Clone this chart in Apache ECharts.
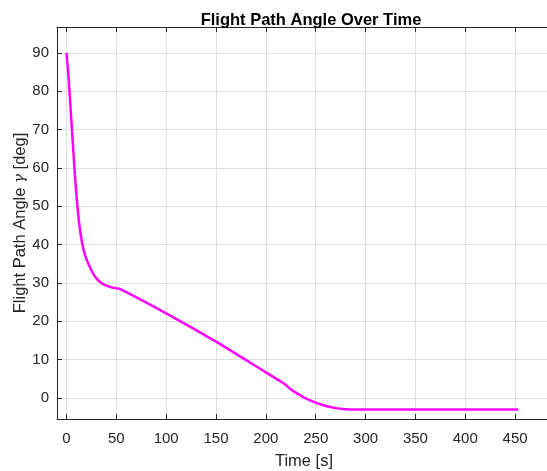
<!DOCTYPE html>
<html>
<head>
<meta charset="utf-8">
<script src="https://cdn.jsdelivr.net/npm/echarts@6/dist/echarts.min.js"></script>
<style>
html,body{margin:0;padding:0;background:#fff;overflow:hidden;}
#chart{width:547px;height:471px;}
</style>
</head>
<body>
<div id="chart"></div>
<script>
// Time [s]
var timeS = [0, 2, 3, 4, 5.5, 7, 8, 9.5, 11, 13, 16, 19, 22, 26, 30, 35, 40, 45, 50, 54, 100, 150, 200, 215, 220, 225, 230, 234, 240, 245, 250, 257, 264, 272, 281, 290, 350, 400, 453];
// Flight path angle gamma [deg]
var gammaDeg = [90, 84, 80, 76, 70, 64, 60, 54.5, 50, 45, 40, 37, 35, 32.8, 31.2, 30.0, 29.3, 28.9, 28.6, 28.4, 22.1, 14.7, 6.7, 4.3, 3.4, 2.3, 1.4, 0.8, -0.1, -0.7, -1.2, -1.8, -2.3, -2.7, -2.95, -3.0, -3.0, -3.0, -3.0];
var xTicks = [0, 50, 100, 150, 200, 250, 300, 350, 400, 450];
var yTicks = [0, 10, 20, 30, 40, 50, 60, 70, 80, 90];

var pts = timeS.map(function (t, i) { return [t, gammaDeg[i]]; });
var FONT = 'Liberation Sans, Arial, Helvetica, sans-serif';
var AX = '#262626';
var GRID = '#dfdfdf';

var chart = echarts.init(document.getElementById('chart'), null, {renderer: 'canvas'});
chart.setOption({
  animation: false,
  backgroundColor: '#ffffff',
  title: {
    text: 'Flight Path Angle Over Time',
    left: 306,
    textAlign: 'center',
    top: 7,
    textStyle: {fontFamily: FONT, fontSize: 16.5, fontWeight: 'bold', color: '#000'}
  },
  grid: {left: 57, right: -4, top: 27, bottom: 52, containLabel: false, outerBoundsMode: 'none'},
  xAxis: [{
    type: 'value',
    min: -9.5, max: 486,
    splitNumber: 10, minInterval: 50, maxInterval: 50,
    name: 'Time [s]',
    nameLocation: 'middle',
    nameGap: 34,
    nameMoveOverlap: false,
    nameTextStyle: {fontFamily: FONT, fontSize: 16.5, color: AX},
    axisLine: {show: true, onZero: false, lineStyle: {color: AX, width: 1}},
    axisTick: {show: true, inside: true, length: 5, lineStyle: {color: AX}},
    axisLabel: {fontFamily: FONT, fontSize: 15, color: AX, margin: 12,
      formatter: function (v) { return xTicks.indexOf(v) >= 0 ? String(v) : ''; }},
    splitLine: {show: true, lineStyle: {color: GRID, width: 1}}
  }, {
    type: 'value',
    position: 'top',
    min: -9.5, max: 486,
    splitNumber: 10, minInterval: 50, maxInterval: 50,
    axisLine: {show: true, onZero: false, lineStyle: {color: AX, width: 1}},
    axisTick: {show: true, inside: true, length: 5, lineStyle: {color: AX}},
    axisLabel: {show: false},
    splitLine: {show: false}
  }],
  yAxis: [{
    type: 'value',
    min: -5.47, max: 96.77,
    splitNumber: 10, minInterval: 10, maxInterval: 10,
    name: 'Flight Path Angle {g|γ} [deg]',
    nameLocation: 'middle',
    nameGap: 28,
    nameMoveOverlap: false,
    nameTextStyle: {fontFamily: FONT, fontSize: 16.5, color: AX,
      rich: {g: {fontFamily: 'DejaVu Serif, serif', fontStyle: 'italic', fontSize: 15, color: AX}}},
    axisLine: {show: true, onZero: false, lineStyle: {color: AX, width: 1}},
    axisTick: {show: true, inside: true, length: 5, lineStyle: {color: AX}},
    axisLabel: {fontFamily: FONT, fontSize: 15, color: AX, margin: 8,
      formatter: function (v) { return yTicks.indexOf(v) >= 0 ? String(v) : ''; }},
    splitLine: {show: true, lineStyle: {color: GRID, width: 1}}
  }],
  series: [{
    type: 'line',
    data: pts,
    xAxisIndex: 0,
    yAxisIndex: 0,
    showSymbol: false,
    smooth: 0.2,
    lineStyle: {color: '#ff00ff', width: 2.5},
    itemStyle: {color: '#ff00ff'}
  }]
});
</script>
</body>
</html>
